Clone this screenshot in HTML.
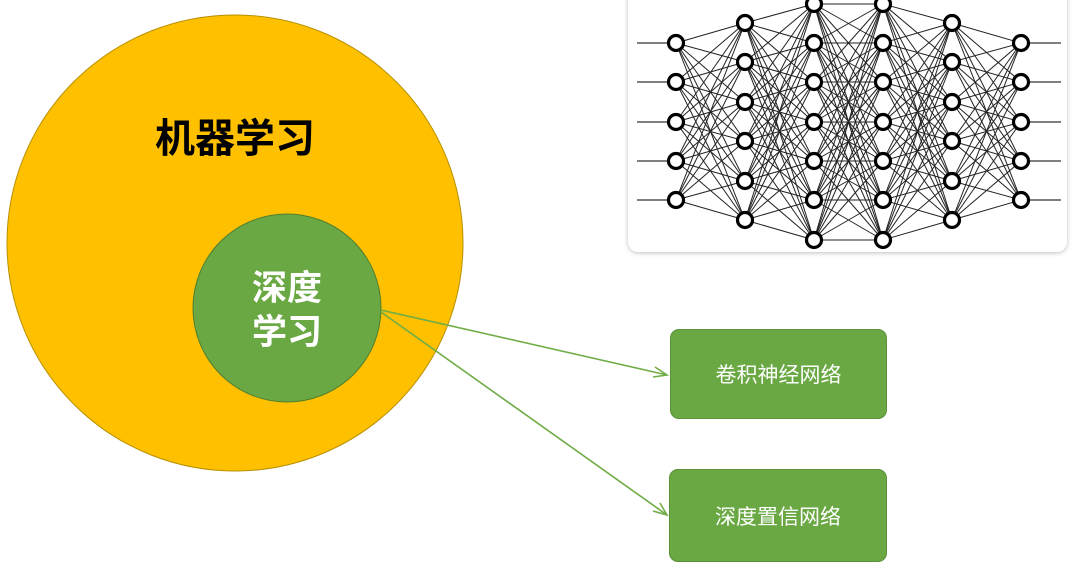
<!DOCTYPE html>
<html><head><meta charset="utf-8"><style>
body{margin:0;width:1076px;height:563px;background:#fff;overflow:hidden;position:relative;font-family:"Liberation Sans","Noto Sans CJK SC",sans-serif}
.panel{position:absolute;left:628px;top:-12px;width:439px;height:264px;border-radius:10px;background:#fff;box-shadow:0 1px 5px rgba(0,0,0,.25)}
.box{position:absolute;background:#6aa843;border:1px solid #5a9237;border-radius:9px;color:#fff;font-size:21px;display:flex;align-items:center;justify-content:center}
</style></head><body>
<div class="panel"></div>
<svg width="1076" height="563" style="position:absolute;left:0;top:0">
<circle cx="235" cy="243" r="228" fill="#ffc000" stroke="#b89000" stroke-width="1"/>
<circle cx="287" cy="308" r="94" fill="#6aa843" stroke="#4f7f30" stroke-width="1"/>
<text x="235" y="152" font-size="40" font-weight="bold" text-anchor="middle" font-family="Liberation Sans,Noto Sans CJK SC,sans-serif">机器学习</text>
<text x="287" y="300" font-size="35" font-weight="bold" fill="#fff" text-anchor="middle" font-family="Liberation Sans,Noto Sans CJK SC,sans-serif">深度</text>
<text x="287" y="344" font-size="35" font-weight="bold" fill="#fff" text-anchor="middle" font-family="Liberation Sans,Noto Sans CJK SC,sans-serif">学习</text>
<g stroke="#70ad47" stroke-width="1.6" fill="none">
<line x1="381" y1="310" x2="667" y2="375"/>
<polyline points="655,367 667,375 653,377"/>
<line x1="381" y1="312" x2="667" y2="515"/>
<polyline points="660,503 667,515 653,511"/>
</g>
<g id="nn"></g>
</svg>
<div class="box" style="left:670px;top:329px;width:215px;height:88px">卷积神经网络</div>
<div class="box" style="left:669px;top:469px;width:216px;height:91px">深度置信网络</div>
<script>
var xs=[676,745,814,883,952,1021];
var L5=[43,82,122,161,200],L6=[23,62,102,141,181,220],L7=[4,43,82,122,161,200,240];
var ys=[L5,L6,L7,L7,L6,L5];
var s='';
for(var i=0;i<5;i++)for(var a of ys[i])for(var b of ys[i+1])s+='<line x1="'+xs[i]+'" y1="'+a+'" x2="'+xs[i+1]+'" y2="'+b+'" stroke="#222" stroke-width="1"/>';
for(var y of L5){s+='<line x1="637" y1="'+y+'" x2="676" y2="'+y+'" stroke="#333" stroke-width="1.2"/><line x1="1021" y1="'+y+'" x2="1061" y2="'+y+'" stroke="#333" stroke-width="1.2"/>';}
for(var i=0;i<6;i++)for(var y of ys[i])s+='<circle cx="'+xs[i]+'" cy="'+y+'" r="7.5" fill="#fff" stroke="#000" stroke-width="3.2"/>';
document.getElementById('nn').innerHTML=s;
</script>
</body></html>
